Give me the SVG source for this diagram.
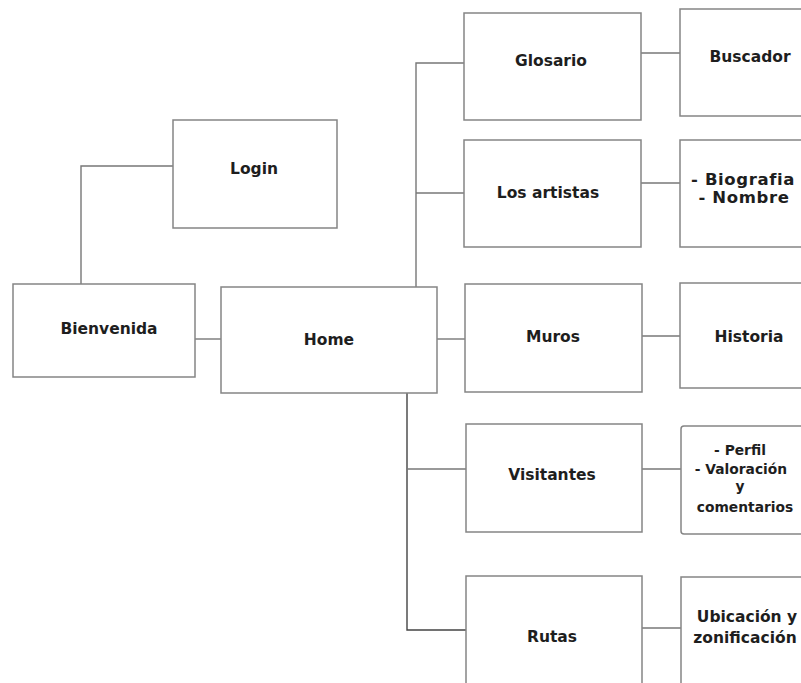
<svg xmlns="http://www.w3.org/2000/svg" width="801" height="683" viewBox="0 0 801 683">
<style>
.box{fill:#fff;stroke:#858585;stroke-width:1.5}
.t{font-family:"DejaVu Sans","Liberation Sans",sans-serif;font-weight:bold;font-size:15.5px;fill:#1e1e1e;text-anchor:middle}
.s{font-size:13.8px}
.b{font-size:16.5px;letter-spacing:0.6px}
.c{fill:none;stroke:#777;stroke-width:1.4}
.d{fill:none;stroke:#444;stroke-width:1.4}
</style>
<rect width="801" height="683" fill="#fff"/>
<g id="connectors">
<path class="c" d="M173,166 H81 V284"/>
<path class="c" d="M195,339 H221"/>
<path class="c" d="M416,287 V63 H464"/>
<path class="c" d="M416,193 H464"/>
<path class="c" d="M437,339 H465"/>
<path class="d" d="M407,393 V630 H466"/>
<path class="c" d="M407,469 H466"/>
<path class="c" d="M641,53 H680"/>
<path class="c" d="M641,183 H680"/>
<path class="c" d="M642,336 H680"/>
<path class="c" d="M642,469 H681"/>
<path class="c" d="M642,628 H681"/>
</g>
<g id="login"><rect class="box" x="173" y="120" width="164" height="108"/><text class="t" x="254" y="174">Login</text></g>
<g id="bienvenida"><rect class="box" x="13" y="284" width="182" height="93"/><text class="t" x="109" y="334">Bienvenida</text></g>
<g id="home"><rect class="box" x="221" y="287" width="216" height="106"/><text class="t" x="329" y="345">Home</text></g>
<g id="glosario"><rect class="box" x="464" y="13" width="177" height="107"/><text class="t" x="551" y="66">Glosario</text></g>
<g id="artistas"><rect class="box" x="464" y="140" width="177" height="107"/><text class="t" x="548" y="198">Los artistas</text></g>
<g id="muros"><rect class="box" x="465" y="284" width="177" height="108"/><text class="t" x="553" y="342">Muros</text></g>
<g id="visitantes"><rect class="box" x="466" y="424" width="176" height="108"/><text class="t" x="552" y="480">Visitantes</text></g>
<g id="rutas"><rect class="box" x="466" y="576" width="176" height="130"/><text class="t" x="552" y="642">Rutas</text></g>
<g id="buscador"><rect class="box" x="680" y="9" width="140" height="107"/><text class="t" x="750" y="62">Buscador</text></g>
<g id="biografia"><rect class="box" x="680" y="140" width="140" height="107"/><text class="t b" x="743" y="185">- Biografia</text><text class="t b" x="744" y="203">- Nombre</text></g>
<g id="historia"><rect class="box" x="680" y="283" width="140" height="105"/><text class="t" x="749" y="342">Historia</text></g>
<g id="perfil"><rect class="box" x="681" y="426" width="140" height="108" rx="3"/><text class="t s" x="740" y="455">- Perfil</text><text class="t s" x="741" y="474">- Valoración</text><text class="t s" x="740" y="491">y</text><text class="t s" x="745" y="512">comentarios</text></g>
<g id="ubicacion"><rect class="box" x="681" y="577" width="140" height="130"/><text class="t" x="747" y="622">Ubicación y</text><text class="t" x="745" y="643">zonificación</text></g>
</svg>
